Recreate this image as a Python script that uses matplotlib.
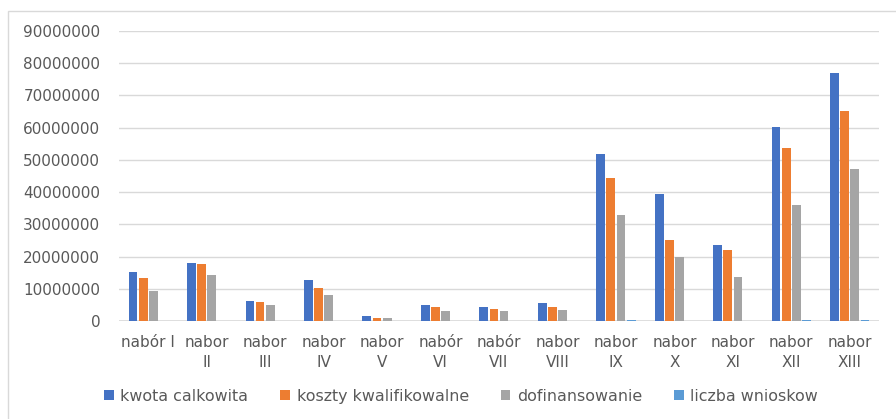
import matplotlib
matplotlib.use("Agg")
import matplotlib.pyplot as plt
from matplotlib.patches import Patch, Rectangle
import numpy as np

categories = ["nabór I", "nabor\nII", "nabor\nIII", "nabor\nIV", "nabor\nV", "nabór\nVI",
              "nabór\nVII", "nabor\nVIII", "nabor\nIX", "nabor\nX", "nabor\nXI", "nabor\nXII", "nabor\nXIII"]
series_names = ["kwota calkowita", "koszty kwalifikowalne", "dofinansowanie", "liczba wnioskow"]
kwota_calkowita = [15.3e6, 17.9e6, 6.2e6, 12.8e6, 1.45e6, 5.0e6, 4.3e6, 5.6e6, 51.8e6, 39.4e6, 23.6e6, 60.1e6, 77.0e6]
koszty_kwalifikowalne = [13.4e6, 17.6e6, 5.9e6, 10.3e6, 1.0e6, 4.3e6, 3.6e6, 4.3e6, 44.3e6, 25.2e6, 22.0e6, 53.8e6, 65.2e6]
dofinansowanie = [9.3e6, 14.4e6, 5.0e6, 8.1e6, 1.0e6, 3.0e6, 3.0e6, 3.4e6, 32.8e6, 19.9e6, 13.8e6, 36.0e6, 47.1e6]
liczba_wnioskow = [0, 0, 0, 0, 0, 0, 0, 0, 4e5, 0, 0, 4e5, 4e5]
y_ticks = [0, 10000000, 20000000, 30000000, 40000000, 50000000, 60000000, 70000000, 80000000, 90000000]

colors = ["#4472C4", "#ED7D31", "#A5A5A5", "#5B9BD5"]
text_color = "#595959"
grid_color = "#D9D9D9"

W, H = 896, 419
fig = plt.figure(figsize=(W / 100, H / 100), dpi=100)
fig.patch.set_facecolor("white")

# chart border
fig.patches.append(Rectangle((8 / W, -0.1), 1.2, 1 - 11 / H + 0.1, transform=fig.transFigure,
                             fill=False, edgecolor=grid_color, linewidth=1.0))

ax = fig.add_axes([119 / W, 1 - 321 / H, (879 - 119) / W, (321 - 31) / H])
x = np.arange(len(categories))
data = [kwota_calkowita, koszty_kwalifikowalne, dofinansowanie, liczba_wnioskow]
step = 0.174
bw = 0.150
for i, (vals, c) in enumerate(zip(data, colors)):
    ax.bar(x + (i - 1.5) * step, vals, width=bw, color=c, zorder=3, linewidth=0)

ax.set_xlim(-0.5, len(categories) - 0.5)
ax.set_ylim(0, 90000000)
ax.set_yticks(y_ticks)
ax.set_yticklabels([str(v) for v in y_ticks])
ax.set_xticks(x)
ax.set_xticklabels(categories, linespacing=1.45)
for s in ax.spines.values():
    s.set_visible(False)
ax.yaxis.grid(True, color=grid_color, linewidth=1.0, zorder=0)
ax.set_axisbelow(True)
ax.tick_params(axis="both", length=0, colors=text_color, labelsize=11)
ax.tick_params(axis="y", pad=13.5)
ax.tick_params(axis="x", pad=10)
ax.axhline(0, color=grid_color, linewidth=1.2, zorder=2)

handles = [Patch(facecolor=c, edgecolor="none") for c in colors]
leg = fig.legend(handles, series_names, loc="center left", bbox_to_anchor=(104 / W, 1 - 396 / H),
                 ncol=4, frameon=False, fontsize=11.4, borderpad=0, borderaxespad=0,
                 handlelength=0.62, handleheight=0.62, handletextpad=0.42, columnspacing=2.0)
for t in leg.get_texts():
    t.set_color(text_color)

fig.savefig("out.png", dpi=100, facecolor="white")
